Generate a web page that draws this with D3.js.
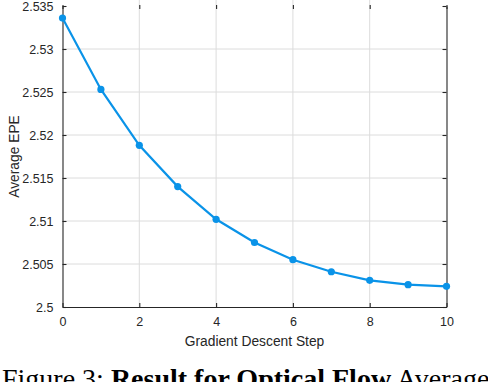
<!DOCTYPE html>
<html>
<head>
<meta charset="utf-8">
<script src="https://cdn.jsdelivr.net/npm/d3@7"></script>
<style>
  body { margin: 0; background: #fff; }
  svg { display: block; }
</style>
</head>
<body>
<svg width="488" height="382"></svg>
<script>
// data
const steps = [0, 1, 2, 3, 4, 5, 6, 7, 8, 9, 10];
const avgEPE = [2.5336, 2.5253, 2.5188, 2.5140, 2.5102, 2.5075, 2.5055, 2.5041, 2.5031, 2.5026, 2.5024];
const xTicks = [0, 2, 4, 6, 8, 10];
const yTicks = [2.5, 2.505, 2.51, 2.515, 2.52, 2.525, 2.53, 2.535];

const plot = { left: 62.5, right: 446.5, top: 6, bottom: 307 };

const svg = d3.select("svg");

const xScale = d3.scaleLinear()
    .domain([0, 10])
    .range([plot.left, plot.right]);

const yScale = d3.scaleLinear()
    .domain([2.5, 2.535])
    .range([plot.bottom, plot.top]);

// grid
svg.append("g")
    .selectAll("line")
    .data(xTicks.slice(1, -1))
    .join("line")
    .attr("x1", d => xScale(d)).attr("x2", d => xScale(d))
    .attr("y1", 0).attr("y2", plot.bottom)
    .attr("stroke", "#dcdcdc")
    .attr("stroke-width", 1);

svg.append("g")
    .selectAll("line")
    .data(yTicks.slice(1, -1))
    .join("line")
    .attr("x1", plot.left).attr("x2", plot.right)
    .attr("y1", d => yScale(d)).attr("y2", d => yScale(d))
    .attr("stroke", "#dcdcdc")
    .attr("stroke-width", 1);

// axes (inward ticks, like matlab)
const xAxis = d3.axisBottom(xScale)
    .tickValues(xTicks)
    .tickSizeInner(-4)
    .tickSizeOuter(0)
    .tickPadding(10);

const yAxis = d3.axisLeft(yScale)
    .tickValues(yTicks)
    .tickFormat(d => d3.format("")(+d.toFixed(3)))
    .tickSizeInner(-4)
    .tickSizeOuter(0)
    .tickPadding(9);

svg.append("g")
    .attr("transform", `translate(0,${plot.bottom})`)
    .call(xAxis);

svg.append("g")
    .attr("transform", `translate(${plot.left},0)`)
    .call(yAxis);

// right side and top ticks
svg.append("g")
    .attr("transform", `translate(${plot.right},0)`)
    .call(d3.axisRight(yScale).tickValues(yTicks).tickSizeInner(-4).tickSizeOuter(0).tickFormat(""));

svg.append("g")
    .attr("transform", `translate(0,${plot.top - 1})`)
    .call(d3.axisTop(xScale).tickValues(xTicks).tickSizeInner(-4).tickSizeOuter(0).tickFormat(""))
    .select(".domain").remove();

svg.selectAll(".domain, .tick line")
    .attr("stroke", "#262626")
    .attr("stroke-width", 1.1);

svg.selectAll(".tick text")
    .attr("fill", "#262626")
    .style("font-family", "'Liberation Sans', Arial, sans-serif")
    .style("font-size", "12.5px");

// the line
const line = d3.line()
    .x((d, i) => xScale(steps[i]))
    .y(d => yScale(d));

svg.append("path")
    .datum(avgEPE)
    .attr("d", line)
    .attr("fill", "none")
    .attr("stroke", "#0a93e8")
    .attr("stroke-width", 2.2);

svg.append("g")
    .selectAll("circle")
    .data(avgEPE)
    .join("circle")
    .attr("cx", (d, i) => xScale(steps[i]))
    .attr("cy", d => yScale(d))
    .attr("r", 3.6)
    .attr("fill", "#0a93e8");

// axis titles
svg.append("text")
    .attr("x", (plot.left + plot.right) / 2)
    .attr("y", 345.5)
    .attr("text-anchor", "middle")
    .attr("fill", "#262626")
    .style("font-family", "'Liberation Sans', Arial, sans-serif")
    .style("font-size", "13.8px")
    .text("Gradient Descent Step");

svg.append("text")
    .attr("transform", `translate(19,${(plot.top + plot.bottom) / 2}) rotate(-90)`)
    .attr("text-anchor", "middle")
    .attr("fill", "#262626")
    .style("font-family", "'Liberation Sans', Arial, sans-serif")
    .style("font-size", "13.8px")
    .text("Average EPE");

// caption under the figure (cut off by the bottom and right edges, as in the source)
const cap = svg.append("text")
    .attr("x", 2)
    .attr("y", 388)
    .attr("fill", "#000")
    .style("font-family", "'Liberation Serif', 'Times New Roman', serif")
    .style("font-size", "28px");
cap.append("tspan").text("Figure 3: ");
cap.append("tspan").attr("font-weight", "bold").text("Result for Optical Flow");
cap.append("tspan").text(" Average");
</script>
</body>
</html>
